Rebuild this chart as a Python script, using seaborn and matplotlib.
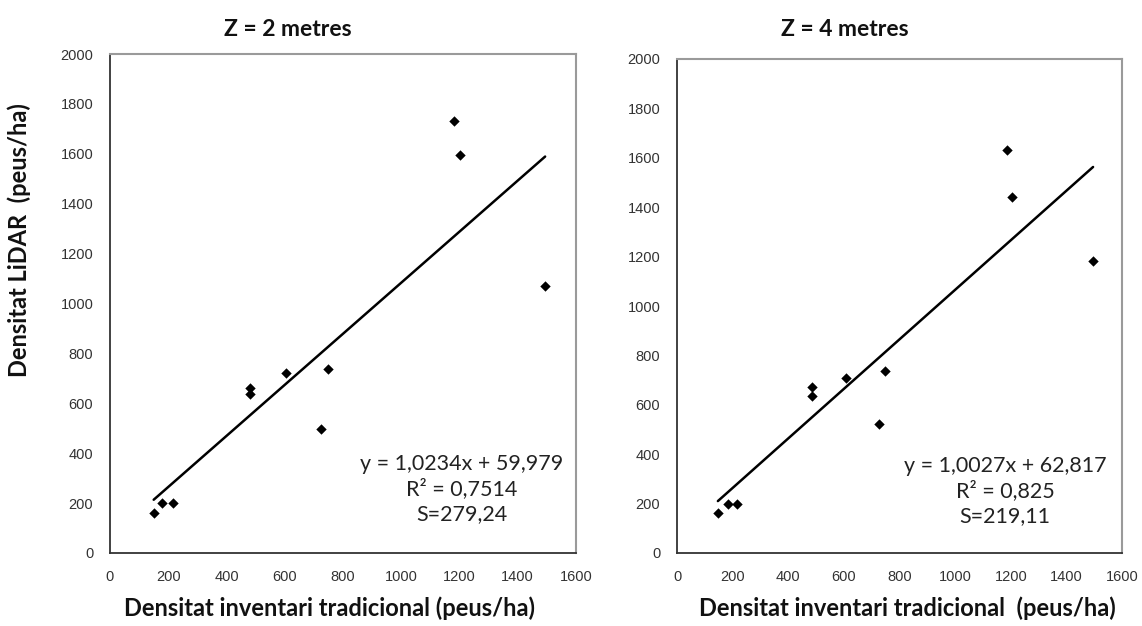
import matplotlib
matplotlib.use("Agg")
import matplotlib.pyplot as plt
import seaborn as sns
import numpy as np
import pandas as pd

# ---- data ----
x_z2 = [150, 180, 215, 482, 482, 604, 750, 723, 1182, 1202, 1494]
y_z2 = [160, 200, 200, 661, 637, 720, 737, 497, 1730, 1595, 1071]
x_z4 = [147, 185, 217, 484, 484, 606, 749, 728, 1185, 1206, 1496]
y_z4 = [163, 198, 198, 673, 637, 710, 738, 521, 1630, 1440, 1183]
slope_z2, icpt_z2 = 1.0234, 59.979
slope_z4, icpt_z4 = 1.0027, 62.817
titles = ["Z = 2 metres", "Z = 4 metres"]
eq_texts = ["y = 1,0234x + 59,979\nR² = 0,7514\nS=279,24",
            "y = 1,0027x + 62,817\nR² = 0,825\nS=219,11"]
x_labels = ["Densitat inventari tradicional (peus/ha)",
            "Densitat inventari tradicional  (peus/ha)"]
y_label = "Densitat LiDAR  (peus/ha)"
x_ticks = [0, 200, 400, 600, 800, 1000, 1200, 1400, 1600]
y_ticks = [0, 200, 400, 600, 800, 1000, 1200, 1400, 1600, 1800, 2000]

sns.set_style("white")
plt.rcParams['font.family'] = ['Liberation Sans', 'DejaVu Sans']

W, H = 1142, 626
fig = plt.figure(figsize=(W / 100, H / 100), dpi=100)

def px_axes(l, t, r, b):
    return fig.add_axes([l / W, 1 - b / H, (r - l) / W, (b - t) / H])

axes = [px_axes(110, 54, 576, 553), px_axes(677, 59, 1122, 553)]
datasets = [(x_z2, y_z2, slope_z2, icpt_z2), (x_z4, y_z4, slope_z4, icpt_z4)]

for ax, (xs, ys, m, c) in zip(axes, datasets):
    df = pd.DataFrame({"x": xs, "y": ys})
    xl = np.array([min(xs), max(xs)])
    line = pd.DataFrame({"x": xl, "y": m * xl + c})
    sns.lineplot(data=line, x="x", y="y", ax=ax, color="black", lw=1.8)
    sns.scatterplot(data=df, x="x", y="y", ax=ax, marker="D", s=28,
                    color="black", edgecolor="black", linewidth=0, zorder=3)
    ax.set_xlim(0, 1600)
    ax.set_ylim(0, 2000)
    ax.set_xticks(x_ticks)
    ax.set_yticks(y_ticks)
    ax.set_xlabel("")
    ax.set_ylabel("")
    ax.tick_params(axis="both", direction="out", length=4, width=1,
                   labelsize=10.5, colors="#333333", pad=8)
    ax.tick_params(axis="y", pad=8)
    for side in ["left", "bottom"]:
        ax.spines[side].set_color("#333333")
        ax.spines[side].set_linewidth(1.3)
    for side in ["top", "right"]:
        ax.spines[side].set_color("#9a9a9a")
        ax.spines[side].set_linewidth(1.5)
        ax.spines[side].set_visible(True)

fam = ["Lato", "DejaVu Sans"]
# equation annotations
fig.text(462 / W, 1 - 489 / H, eq_texts[0], ha="center", va="center",
         fontsize=15.5, family=fam, color="#222222", linespacing=1.3)
fig.text(1005 / W, 1 - 491 / H, eq_texts[1], ha="center", va="center",
         fontsize=15.5, family=fam, color="#222222", linespacing=1.3)

# titles
fig.text(288 / W, 1 - 29 / H, titles[0], ha="center", va="center",
         fontsize=16.5, fontweight="bold", family=fam, color="#111111")
fig.text(845 / W, 1 - 29 / H, titles[1], ha="center", va="center",
         fontsize=16.5, fontweight="bold", family=fam, color="#111111")

# axis labels
fig.text(330 / W, 1 - 608 / H, x_labels[0], ha="center", va="center",
         fontsize=17, fontweight="bold", family=fam, color="#111111")
fig.text(907 / W, 1 - 608 / H, x_labels[1], ha="center", va="center",
         fontsize=17, fontweight="bold", family=fam, color="#111111")
fig.text(19 / W, 1 - 240 / H, y_label, ha="center", va="center", rotation=90,
         fontsize=17, fontweight="bold", family=fam, color="#111111")

fig.savefig("out.png", dpi=100)
